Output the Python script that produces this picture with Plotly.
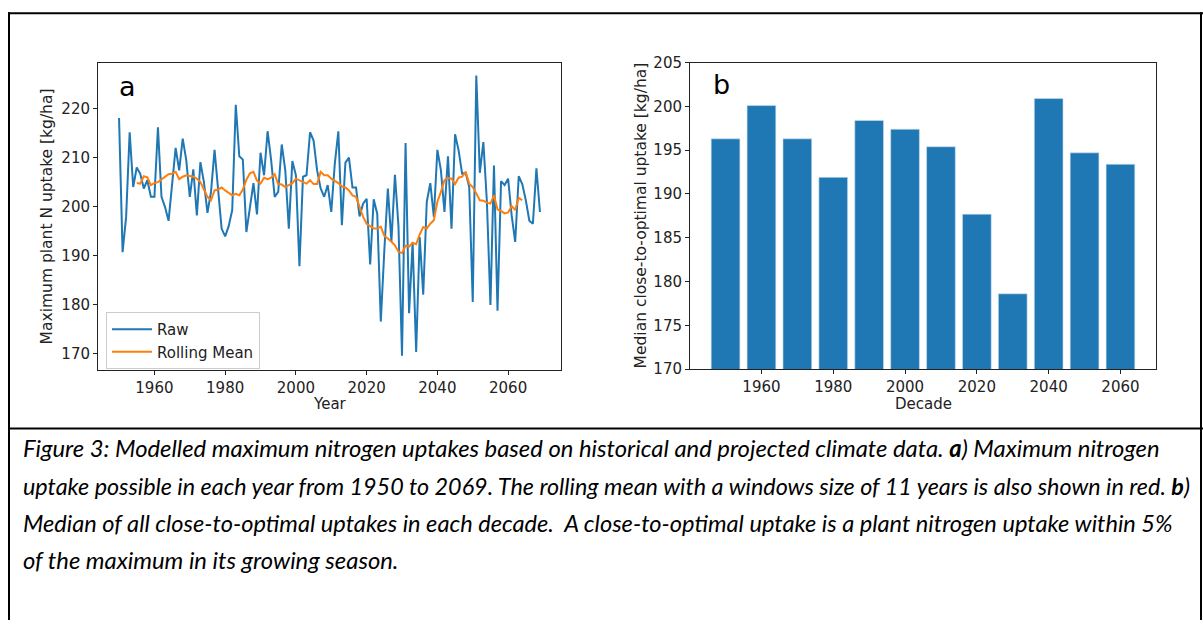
import plotly.graph_objects as go

W, H = 1203, 629

# Yearly maximum plant N uptake, 1950-2069 [kg/ha]
years = list(range(1950, 2070))
raw_uptake = [
    218.1, 190.7, 197.9, 215.2, 204.0, 208.0, 206.7, 203.7, 205.4, 202.0,
    202.0, 216.2, 202.0, 199.9, 197.1, 205.0, 212.0, 207.4, 213.9, 209.5,
    202.0, 207.6, 198.2, 209.1, 205.0, 198.7, 203.0, 211.6, 203.0, 195.5,
    193.9, 196.0, 199.3, 220.8, 210.3, 209.6, 194.8, 199.9, 204.8, 198.4,
    211.0, 206.4, 215.4, 209.5, 202.0, 203.0, 212.7, 207.4, 195.5, 209.3,
    206.4, 187.8, 206.1, 206.4, 215.2, 213.5, 207.4, 203.7, 202.0, 204.4,
    198.9, 208.8, 215.4, 196.2, 209.0, 210.0, 203.9, 203.9, 198.0, 200.6,
    201.6, 188.2, 201.5, 198.5, 176.5, 191.0, 203.7, 192.8, 206.5, 196.0,
    169.5, 213.0, 178.2, 192.6, 170.3, 193.8, 182.0, 201.0, 204.8, 197.9,
    211.6, 207.4, 198.9, 210.3, 195.5, 214.8, 211.5, 206.7, 206.9, 204.0,
    180.5, 226.8, 206.9, 213.2, 201.0, 179.9, 208.4, 178.7, 205.2, 204.4,
    205.7, 198.2, 192.8, 206.2, 204.6, 201.3, 197.1, 196.5, 207.8, 198.9,
]

# 11-year centred rolling mean, 1955-2064
rolling_years = list(range(1955, 2065))
rolling_mean = [
    204.8, 204.7, 206.2, 206.0, 204.4, 204.8, 205.0, 205.5, 206.0, 206.6,
    206.7, 207.1, 205.6, 206.1, 206.4, 206.2, 206.1, 205.7, 205.0, 203.5,
    202.0, 201.3, 203.3, 203.5, 203.9, 203.3, 202.8, 202.3, 202.6, 202.3,
    203.5, 205.5, 206.8, 207.1, 205.3, 204.7, 205.9, 205.6, 205.9, 206.6,
    204.6, 204.5, 204.0, 204.4, 204.8, 205.7, 205.4, 205.0, 204.7, 205.4,
    204.6, 204.6, 207.1, 206.4, 206.4, 205.7, 205.2, 204.8, 204.1, 203.9,
    203.3, 202.3, 202.0, 199.9, 197.9, 196.5, 196.0, 195.5, 195.5, 195.9,
    194.0, 193.5, 192.8, 192.1, 190.8, 190.5, 192.0, 191.8, 192.6, 192.3,
    194.3, 195.8, 195.5, 196.5, 197.2, 201.0, 203.0, 205.4, 205.9, 205.7,
    204.6, 205.9, 206.1, 207.1, 204.7, 204.0, 202.7, 201.3, 201.2, 200.8,
    200.6, 202.3, 199.4, 199.1, 198.6, 198.8, 200.1, 199.3, 201.8, 201.3,
]

# Decadal median of close-to-optimal uptakes [kg/ha]
decades = [1950, 1960, 1970, 1980, 1990, 2000, 2010, 2020, 2030, 2040, 2050, 2060]
decade_median = [196.3, 200.1, 196.3, 191.9, 198.4, 197.4, 195.4, 187.7, 178.6, 200.9, 194.7, 193.4]

left_yticks = [170, 180, 190, 200, 210, 220]
right_yticks = [170, 175, 180, 185, 190, 195, 200, 205]
xticks = [1960, 1980, 2000, 2020, 2040, 2060]

caption_lines = [
    "Figure 3: Modelled maximum nitrogen uptakes based on historical and projected climate data. <b>a</b>) Maximum nitrogen",
    "uptake possible in each year from 1950 to 2069. The rolling mean with a windows size of 11 years is also shown in red. <b>b</b>)",
    "Median of all close-to-optimal uptakes in each decade.&nbsp; A close-to-optimal uptake is a plant nitrogen uptake within 5%",
    "of the maximum in its growing season.",
]
caption_sizes = [23.8, 23.35, 23.6, 23.8]

BLUE = "#1f77b4"
ORANGE = "#ff7f0e"
MPL_FONT = "DejaVu Sans"
TXT = "#222"

# page-pixel helpers (vertical positions include the page's top offset/scale)
Y_OFF, Y_SCALE = 8.0, 0.9752


def px_x(p):
    return p / W


def px_y(p):
    return 1 - (p / Y_SCALE - Y_OFF) / H


fig = go.Figure()

fig.add_trace(go.Scatter(
    x=years, y=raw_uptake, mode="lines", name="Raw",
    line=dict(color=BLUE, width=2), xaxis="x", yaxis="y",
))
fig.add_trace(go.Scatter(
    x=rolling_years, y=rolling_mean, mode="lines", name="Rolling Mean",
    line=dict(color=ORANGE, width=2), xaxis="x", yaxis="y",
))
fig.add_trace(go.Bar(
    x=decades, y=decade_median, width=8,
    marker=dict(color=BLUE, line=dict(width=0.6, color="#cfe0ef")),
    showlegend=False, xaxis="x2", yaxis="y2",
))

axis_common = dict(
    showgrid=False, zeroline=False, showline=True, mirror=True,
    linecolor=TXT, linewidth=1, ticks="outside", ticklen=4, tickwidth=1,
    tickcolor=TXT, tickfont=dict(family=MPL_FONT, size=15, color=TXT),
)

fig.update_layout(
    width=W, height=H, autosize=False,
    margin=dict(l=0, r=0, t=0, b=0),
    paper_bgcolor="white", plot_bgcolor="white",
    xaxis=dict(domain=[px_x(98), px_x(561)], range=[1944.05, 2074.95],
               tickvals=xticks, anchor="y", **axis_common),
    yaxis=dict(domain=[px_y(370), px_y(62)], range=[166.65, 229.35],
               tickvals=left_yticks, anchor="x", **axis_common),
    xaxis2=dict(domain=[px_x(690), px_x(1156)], range=[1940.1, 2069.9],
                tickvals=xticks, anchor="y2", **axis_common),
    yaxis2=dict(domain=[px_y(369.3), px_y(61.7)], range=[170, 205],
                tickvals=right_yticks, anchor="x2", **axis_common),
    legend=dict(
        x=px_x(106), y=px_y(312), xanchor="left", yanchor="top",
        bgcolor="rgba(255,255,255,0.8)", bordercolor="#cccccc", borderwidth=1,
        font=dict(family=MPL_FONT, size=15, color=TXT),
        itemwidth=40, tracegroupgap=0,
    ),
    showlegend=True,
)

annotations = [
    dict(text="a", x=px_x(117), y=px_y(86), xanchor="left", yanchor="middle",
         font=dict(family=MPL_FONT, size=27, color="black")),
    dict(text="b", x=px_x(711), y=px_y(84), xanchor="left", yanchor="middle",
         font=dict(family=MPL_FONT, size=27, color="black")),
    dict(text="Year", x=px_x(329.5), y=px_y(404), xanchor="center", yanchor="middle",
         font=dict(family=MPL_FONT, size=15, color=TXT)),
    dict(text="Decade", x=px_x(923), y=px_y(404), xanchor="center", yanchor="middle",
         font=dict(family=MPL_FONT, size=15, color=TXT)),
    dict(text="Maximum plant N uptake [kg/ha]", x=px_x(47), y=px_y(216), textangle=-90,
         xanchor="center", yanchor="middle",
         font=dict(family=MPL_FONT, size=15.5, color=TXT)),
    dict(text="Median close-to-optimal uptake [kg/ha]", x=px_x(641), y=px_y(215),
         textangle=-90, xanchor="center", yanchor="middle",
         font=dict(family=MPL_FONT, size=15.5, color=TXT)),
]
caption_y = [449, 487, 524, 561]
for line, yy, fs in zip(caption_lines, caption_y, caption_sizes):
    annotations.append(dict(
        text="<i>" + line + "</i>", x=px_x(21), y=px_y(yy), xanchor="left", yanchor="middle",
        font=dict(family="Lato", size=fs, color="black"),
    ))
for a in annotations:
    a.update(xref="paper", yref="paper", showarrow=False)
fig.update_layout(annotations=annotations)

# Document frame around the figure and caption
frame = dict(type="line", xref="paper", yref="paper", line=dict(color="black", width=2))
fig.update_layout(shapes=[
    dict(frame, x0=px_x(8), x1=px_x(1203), y0=px_y(12), y1=px_y(12)),
    dict(frame, x0=px_x(9), x1=px_x(9), y0=px_y(11), y1=0),
    dict(frame, x0=px_x(1201), x1=px_x(1201), y0=px_y(11), y1=0),
    dict(frame, x0=px_x(8), x1=px_x(1203), y0=px_y(429), y1=px_y(429)),
])

fig.write_html("out.html")
